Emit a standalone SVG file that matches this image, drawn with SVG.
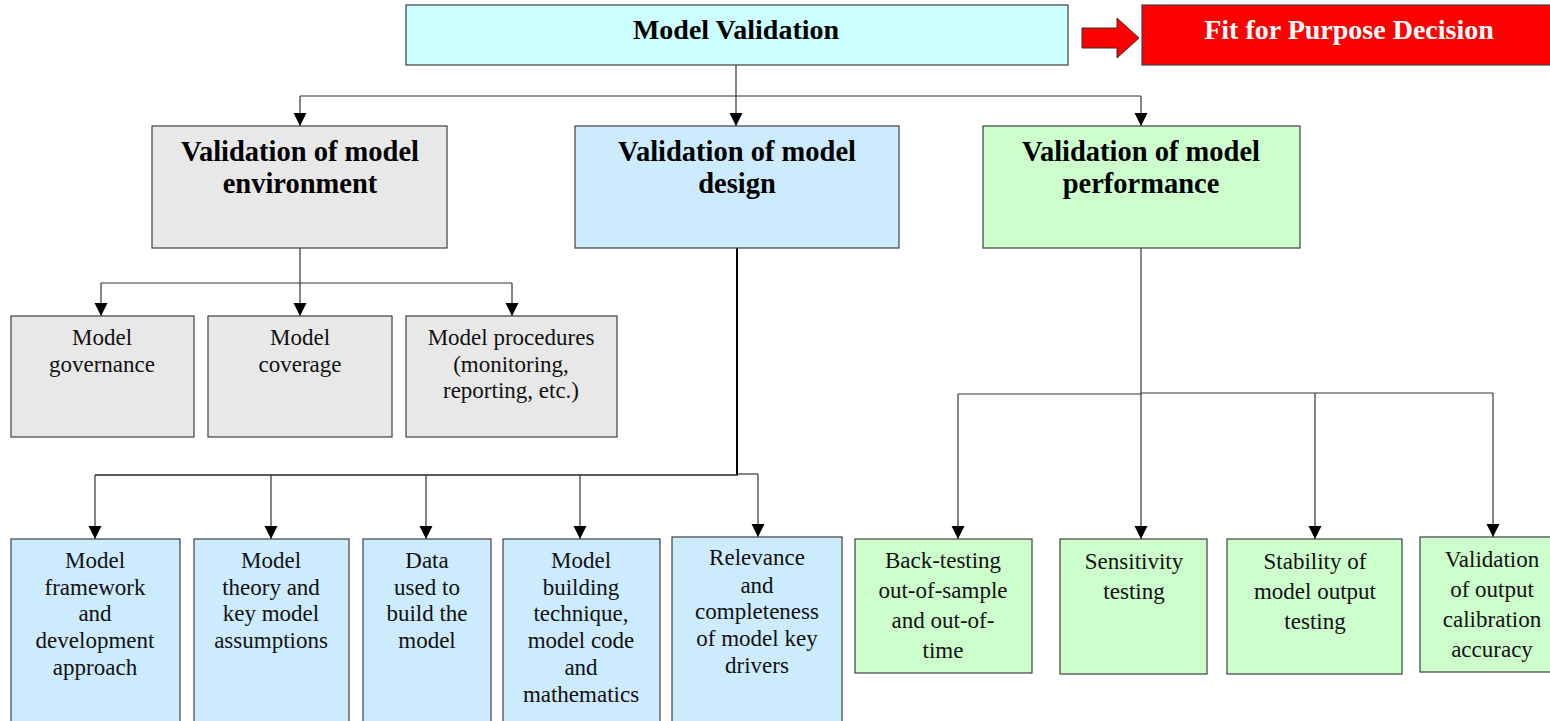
<svg xmlns="http://www.w3.org/2000/svg" width="1550" height="721" viewBox="0 0 1550 721">
<defs>
<marker id="ah" markerUnits="userSpaceOnUse" markerWidth="13" markerHeight="14" refX="13" refY="6.5" orient="auto">
<path d="M0,0 L13,6.5 L0,13 Z" fill="#000"/>
</marker>
<style>
.box{stroke:#404040;stroke-width:1.2}
.gray{fill:#E8E8E8}
.blue{fill:#CCEBFF}
.green{fill:#CCFFCC}
.h{font-family:"Liberation Serif","Times New Roman",serif;font-weight:bold;font-size:28.5px;text-anchor:middle;fill:#000}
.top{font-size:28px}
.t{font-family:"Liberation Serif","Times New Roman",serif;font-size:23px;text-anchor:middle;fill:#111}
.c{fill:none;stroke:#333;stroke-width:1.2}
.ca{fill:none;stroke:#333;stroke-width:1.2;marker-end:url(#ah)}
</style>
</defs>
<rect width="1550" height="721" fill="#fff"/>

<g id="connectors">
<path class="c" d="M736,65 V96"/>
<path class="c" d="M300,96 H1141"/>
<path class="ca" d="M300,96 V126"/>
<path class="ca" d="M736,96 V126"/>
<path class="ca" d="M1141,96 V126"/>

<path class="c" d="M300,248 V283"/>
<path class="c" d="M101,283 H512"/>
<path class="ca" d="M101,283 V316"/>
<path class="ca" d="M300,283 V316"/>
<path class="ca" d="M512,283 V316"/>

<path fill="none" stroke="#000" stroke-width="2" d="M737,248 V475"/>
<path fill="none" stroke="#222" stroke-width="1.6" d="M95,475 H738"/>
<path class="c" d="M737,474 H758"/>
<path class="ca" d="M95,475 V539"/>
<path class="ca" d="M271,475 V539"/>
<path class="ca" d="M426,475 V539"/>
<path class="ca" d="M580,475 V539"/>
<path class="ca" d="M758,474 V537"/>

<path class="c" d="M1141,248 V393"/>
<path class="c" d="M958,394 H1141"/>
<path class="c" d="M1141,393 H1493"/>
<path class="ca" d="M958,394 V539"/>
<path class="ca" d="M1141,393 V539"/>
<path class="ca" d="M1315,393 V539"/>
<path class="ca" d="M1493,393 V537"/>
</g>

<g id="model-validation">
<rect class="box" x="406" y="5" width="662" height="60" fill="#CCFFFF"/>
<text class="h top" x="736" y="39">Model Validation</text>
</g>

<g id="red-arrow">
<polygon points="1082,28 1117,28 1117,18 1139,38 1117,58 1117,48 1082,48" fill="#FF0000" stroke="#333" stroke-width="1"/>
</g>

<g id="fit-for-purpose">
<rect x="1142" y="5" width="420" height="60" fill="#FF0000" stroke="#404040" stroke-width="1.2"/>
<text class="h top" x="1349" y="39" style="fill:#fff">Fit for Purpose Decision</text>
</g>

<g id="env">
<rect class="box gray" x="152" y="126" width="295" height="122"/>
<text class="h" x="300" y="161">Validation of model</text>
<text class="h" x="300" y="193">environment</text>
</g>
<g id="design">
<rect class="box blue" x="575" y="126" width="324" height="122"/>
<text class="h" x="737" y="161">Validation of model</text>
<text class="h" x="737" y="193">design</text>
</g>
<g id="performance">
<rect class="box green" x="983" y="126" width="317" height="122"/>
<text class="h" x="1141" y="161">Validation of model</text>
<text class="h" x="1141" y="193">performance</text>
</g>

<g id="governance">
<rect class="box gray" x="11" y="316" width="183" height="121"/>
<text class="t" x="102" y="345">Model</text>
<text class="t" x="102" y="372">governance</text>
</g>
<g id="coverage">
<rect class="box gray" x="208" y="316" width="184" height="121"/>
<text class="t" x="300" y="345">Model</text>
<text class="t" x="300" y="372">coverage</text>
</g>
<g id="procedures">
<rect class="box gray" x="406" y="316" width="211" height="121"/>
<text class="t" x="511" y="345">Model procedures</text>
<text class="t" x="511" y="372">(monitoring,</text>
<text class="t" x="511" y="398">reporting, etc.)</text>
</g>

<g id="framework">
<rect class="box blue" x="11" y="539" width="169" height="190"/>
<text class="t" x="95" y="568">Model</text>
<text class="t" x="95" y="595">framework</text>
<text class="t" x="95" y="621">and</text>
<text class="t" x="95" y="648">development</text>
<text class="t" x="95" y="675">approach</text>
</g>
<g id="theory">
<rect class="box blue" x="194" y="539" width="155" height="190"/>
<text class="t" x="271" y="568">Model</text>
<text class="t" x="271" y="595">theory and</text>
<text class="t" x="271" y="621">key model</text>
<text class="t" x="271" y="648">assumptions</text>
</g>
<g id="data">
<rect class="box blue" x="363" y="539" width="128" height="190"/>
<text class="t" x="427" y="568">Data</text>
<text class="t" x="427" y="595">used to</text>
<text class="t" x="427" y="621">build the</text>
<text class="t" x="427" y="648">model</text>
</g>
<g id="building">
<rect class="box blue" x="503" y="539" width="157" height="190"/>
<text class="t" x="581" y="568">Model</text>
<text class="t" x="581" y="595">building</text>
<text class="t" x="581" y="621">technique,</text>
<text class="t" x="581" y="648">model code</text>
<text class="t" x="581" y="675">and</text>
<text class="t" x="581" y="702">mathematics</text>
</g>
<g id="relevance">
<rect class="box blue" x="672" y="537" width="170" height="192"/>
<text class="t" x="757" y="565">Relevance</text>
<text class="t" x="757" y="593">and</text>
<text class="t" x="757" y="619">completeness</text>
<text class="t" x="757" y="646">of model key</text>
<text class="t" x="757" y="673">drivers</text>
</g>

<g id="backtesting">
<rect class="box green" x="855" y="539" width="177" height="134"/>
<text class="t" x="943" y="568">Back-testing</text>
<text class="t" x="943" y="598">out-of-sample</text>
<text class="t" x="943" y="628">and out-of-</text>
<text class="t" x="943" y="658">time</text>
</g>
<g id="sensitivity">
<rect class="box green" x="1060" y="539" width="147" height="135"/>
<text class="t" x="1134" y="569">Sensitivity</text>
<text class="t" x="1134" y="599">testing</text>
</g>
<g id="stability">
<rect class="box green" x="1227" y="539" width="175" height="135"/>
<text class="t" x="1315" y="569">Stability of</text>
<text class="t" x="1315" y="599">model output</text>
<text class="t" x="1315" y="629">testing</text>
</g>
<g id="calibration">
<rect class="box green" x="1420" y="537" width="140" height="135"/>
<text class="t" x="1492" y="567">Validation</text>
<text class="t" x="1492" y="597">of output</text>
<text class="t" x="1492" y="627">calibration</text>
<text class="t" x="1492" y="657">accuracy</text>
</g>
</svg>
